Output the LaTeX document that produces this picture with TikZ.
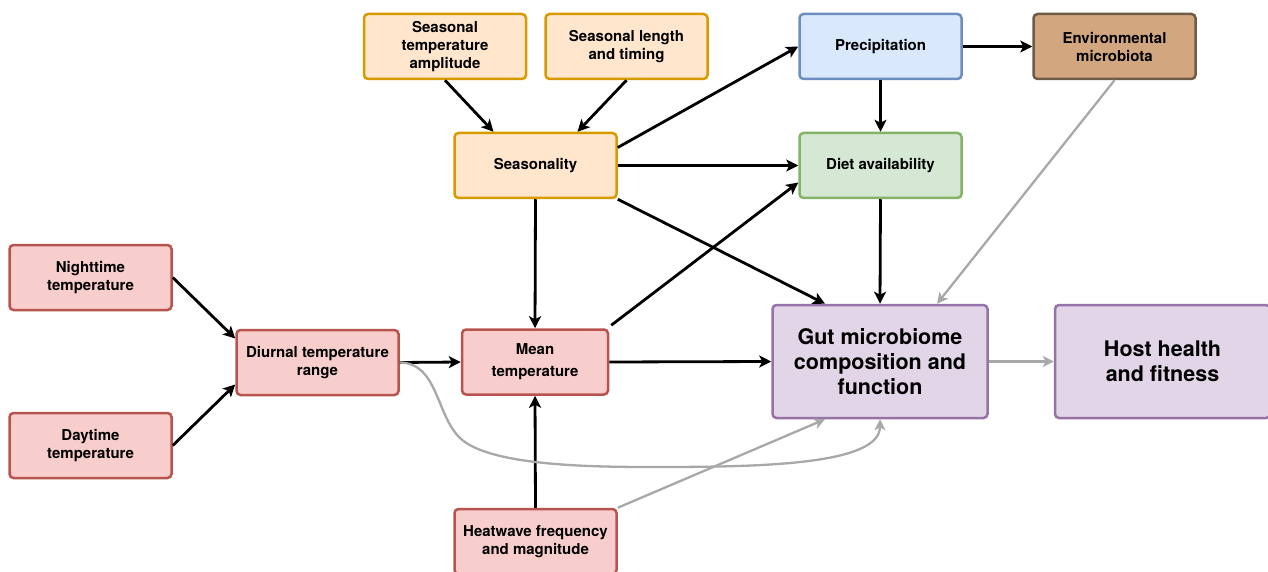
\documentclass[tikz,border=0pt]{standalone}
\usepackage{fontspec}
\setmainfont{TeX Gyre Heros}
\usetikzlibrary{arrows.meta}
\definecolor{orfill}{HTML}{FFE6CC}\definecolor{ordraw}{HTML}{D79B00}
\definecolor{blfill}{HTML}{DAE8FC}\definecolor{bldraw}{HTML}{6C8EBF}
\definecolor{grfill}{HTML}{D5E8D4}\definecolor{grdraw}{HTML}{82B366}
\definecolor{rdfill}{HTML}{F8CECC}\definecolor{rddraw}{HTML}{B85450}
\definecolor{pufill}{HTML}{E1D5E7}\definecolor{pudraw}{HTML}{9673A6}
\definecolor{brfill}{HTML}{D2A77F}\definecolor{brdraw}{HTML}{6F5B47}
\definecolor{lgray}{HTML}{A8A8A8}
\tikzset{
  box/.style={rectangle, rounded corners=4pt, line width=2.5pt, align=center,
    inner sep=0pt, minimum width=162pt, minimum height=65pt,
    font=\fontsize{15}{18}\selectfont\bfseries},
  bigbox/.style={box, minimum width=215pt, minimum height=113pt,
    font=\fontsize{21.5}{25}\selectfont\bfseries},
  orbox/.style={box, fill=orfill, draw=ordraw},
  blbox/.style={box, fill=blfill, draw=bldraw},
  grbox/.style={box, fill=grfill, draw=grdraw},
  rdbox/.style={box, fill=rdfill, draw=rddraw},
  brbox/.style={box, fill=brfill, draw=brdraw},
  pubox/.style={bigbox, fill=pufill, draw=pudraw},
  arr/.style={line width=2.8pt, black, -{Stealth[length=12pt,width=12pt,inset=3pt]}},
  garr/.style={line width=2.3pt, lgray, -{Stealth[length=11pt,width=11pt,inset=3pt]}},
}
\begin{document}
\begin{tikzpicture}[x=1pt,y=-1pt]
\useasboundingbox (0,0) rectangle (1268,572);
\node[orbox] (sta) at (445,46.5) {Seasonal\\temperature\\amplitude};
\node[orbox] (slt) at (626.5,46.5) {Seasonal length\\and timing};
\node[blbox] (prec) at (880.5,46.5) {Precipitation};
\node[brbox] (env) at (1114.5,46.5) {Environmental\\microbiota};
\node[orbox] (seas) at (535.5,165.5) {Seasonality};
\node[grbox] (diet) at (880.5,165.5) {Diet availability};
\node[rdbox] (night) at (90.5,277.5) {Nighttime\\temperature};
\node[rdbox] (day) at (90.5,445.5) {Daytime\\temperature};
\node[rdbox] (dtr) at (317.5,362.5) {Diurnal temperature\\range};
\node[rdbox, minimum width=146pt, font=\fontsize{15}{22}\selectfont\bfseries] (mean) at (535,362) {Mean\\temperature};
\node[rdbox] (heat) at (535.5,541.5) {Heatwave frequency\\and magnitude};
\node[pubox] (gut) at (880,361.5) {Gut microbiome\\composition and\\function};
\node[pubox] (host) at (1162.5,361.5) {Host health\\and fitness};

\draw[arr] (sta.south) -- ([xshift=-42pt]seas.north);
\draw[arr] (slt.south) -- ([xshift=42pt]seas.north);
\draw[arr] ([yshift=18pt]seas.east) -- (prec.west);
\draw[arr] (seas.east) -- (diet.west);
\draw[arr] (seas.south east) -- ([xshift=-55pt]gut.north);
\draw[arr] (seas.south) -- (mean.north);
\draw[arr] (prec.east) -- (env.west);
\draw[arr] (prec.south) -- (diet.north);
\draw[arr] (diet.south) -- (gut.north);
\draw[garr] (env.south) -- ([xshift=57pt]gut.north);
\draw[arr] (night.east) -- ([yshift=24pt]dtr.west);
\draw[arr] (day.east) -- ([yshift=-22pt]dtr.west);
\draw[arr] (dtr.east) -- (mean.west);
\draw[arr] (mean.east) -- (gut.west);
\draw[arr] ([xshift=2pt,yshift=3pt]mean.north east) -- ([yshift=-17pt]diet.west);
\draw[arr] (heat.north) -- (mean.south);
\draw[garr] (heat.north east) -- ([xshift=-55pt]gut.south);
\draw[garr] (dtr.east) .. controls (438,363) and (436,415) .. (460,438)
  .. controls (490,467) and (600,467) .. (657,467)
  .. controls (760,467) and (880,465) .. (gut.south);
\draw[garr] (gut.east) -- (host.west);
\end{tikzpicture}
\end{document}
